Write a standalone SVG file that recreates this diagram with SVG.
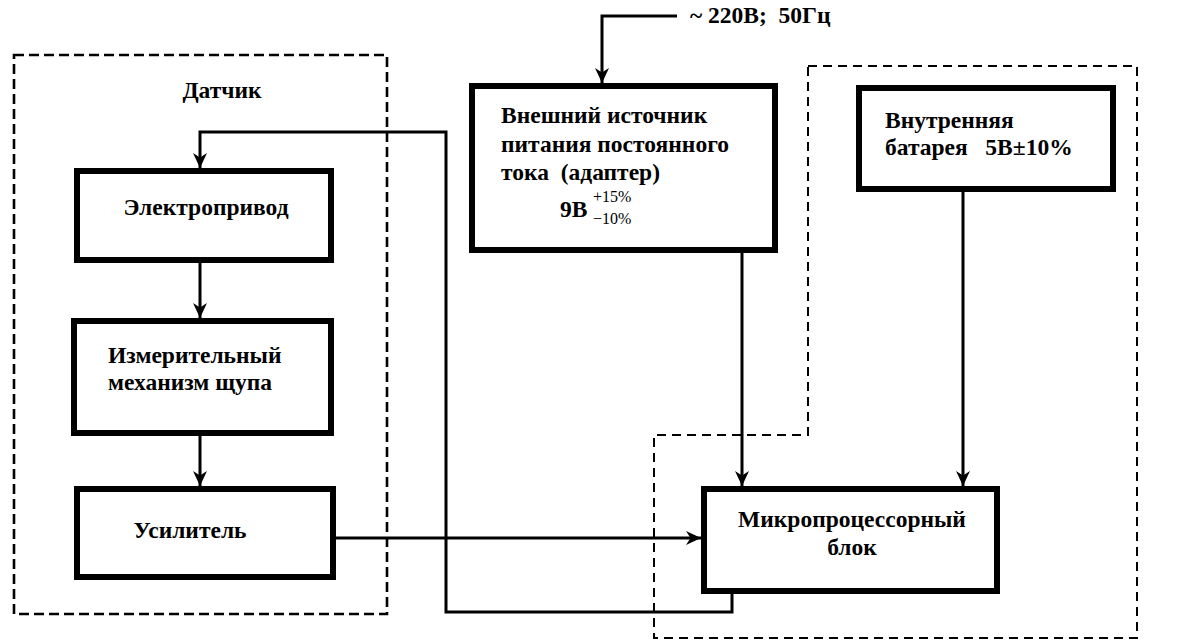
<svg xmlns="http://www.w3.org/2000/svg" width="1192" height="641" viewBox="0 0 1192 641">
<style>
.box{fill:#fff;stroke:#000;stroke-width:6}
.dash{fill:none;stroke:#000;stroke-width:2;stroke-dasharray:9 6}
.dash2{fill:none;stroke:#000;stroke-width:2.6;stroke-dasharray:10 5}
.con{fill:none;stroke:#000;stroke-width:3}
.t{font-family:"Liberation Serif","Times New Roman",serif;font-weight:bold;font-size:23.5px;fill:#000}
.s{font-family:"Liberation Serif","Times New Roman",serif;font-size:16px;fill:#000}
</style>
<defs>
<marker id="arr" viewBox="0 0 15 15" refX="15" refY="7.5" markerWidth="15" markerHeight="15" orient="auto" markerUnits="userSpaceOnUse">
<path d="M0,0.5 L15,7.5 L0,14.5 L4.5,7.5 z" fill="#000"/>
</marker>
</defs>
<rect width="1192" height="641" fill="#fff"/>
<g id="group-sensor">
<rect class="dash2" x="14" y="55" width="373" height="559"/>
<text class="t" x="222" y="98" text-anchor="middle">Датчик</text>
</g>
<g id="group-power">
<path class="dash" d="M808,66 H1137 V638 H654 V435 H808 Z"/>
</g>
<g id="connectors">
<path class="con" d="M677,16 H602 V83" marker-end="url(#arr)"/>
<path class="con" d="M732,594 V612 H446 V132 H200 V168" marker-end="url(#arr)"/>
<path class="con" d="M200,263 V318" marker-end="url(#arr)"/>
<path class="con" d="M200,436 V486" marker-end="url(#arr)"/>
<path class="con" d="M336,538 H701" marker-end="url(#arr)"/>
<path class="con" d="M742,253 V486" marker-end="url(#arr)"/>
<path class="con" d="M963,192 V486" marker-end="url(#arr)"/>
</g>
<g id="node-drive">
<rect class="box" x="77" y="171" width="254" height="89"/>
<text class="t" x="206" y="215" text-anchor="middle">Электропривод</text>
</g>
<g id="node-measure">
<rect class="box" x="74" y="321" width="257" height="112"/>
<text class="t" x="108" y="363">Измерительный</text>
<text class="t" x="108" y="390">механизм щупа</text>
</g>
<g id="node-amp">
<rect class="box" x="77" y="489" width="256" height="88"/>
<text class="t" x="190" y="538" text-anchor="middle">Усилитель</text>
</g>
<g id="node-adapter">
<rect class="box" x="472" y="86" width="303" height="164"/>
<text class="t" x="501" y="123">Внешний источник</text>
<text class="t" x="501" y="152">питания постоянного</text>
<text class="t" x="501" y="180" xml:space="preserve">тока  (адаптер)</text>
<text class="t" x="560" y="217">9В</text>
<text class="s" x="593" y="202">+15%</text>
<text class="s" x="593" y="224">−10%</text>
</g>
<g id="node-battery">
<rect class="box" x="859" y="88" width="254" height="101"/>
<text class="t" x="885" y="128">Внутренняя</text>
<text class="t" x="885" y="155" xml:space="preserve">батарея   5В±10%</text>
</g>
<g id="node-mcu">
<rect class="box" x="704" y="489" width="293" height="102"/>
<text class="t" x="852" y="527" text-anchor="middle">Микропроцессорный</text>
<text class="t" x="852" y="555" text-anchor="middle">блок</text>
</g>
<g id="label-input">
<text class="t" x="690" y="23" xml:space="preserve">~ 220В;  50Гц</text>
</g>
</svg>
